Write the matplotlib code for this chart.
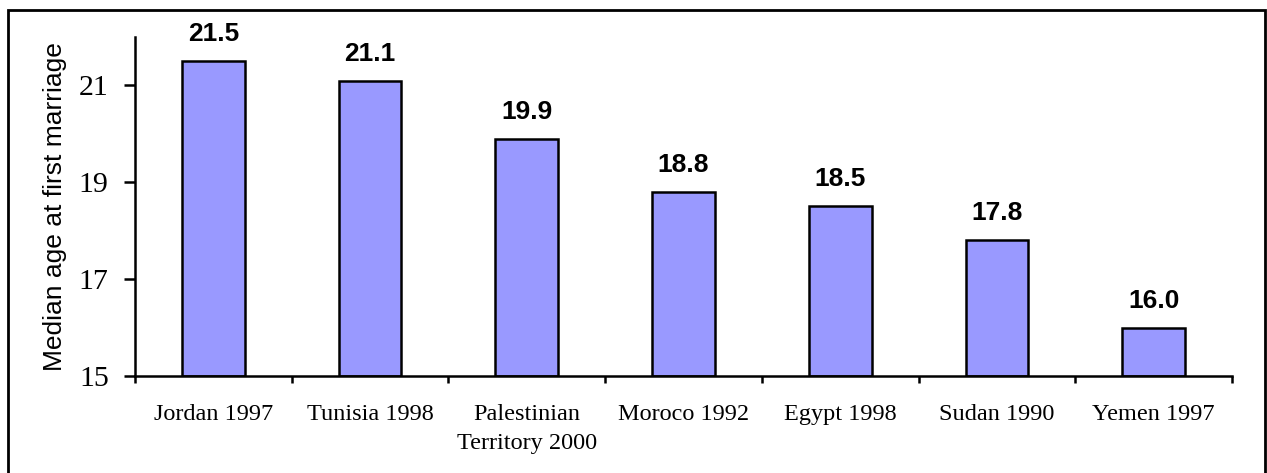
import matplotlib.pyplot as plt
from matplotlib.patches import Rectangle

countries = ['Jordan 1997', 'Tunisia 1998', 'Palestinian\nTerritory 2000', 'Moroco 1992',
             'Egypt 1998', 'Sudan 1990', 'Yemen 1997']
median_age = [21.5, 21.1, 19.9, 18.8, 18.5, 17.8, 16.0]
y_ticks = [15, 17, 19, 21]

fig = plt.figure(figsize=(12.67, 4.73), dpi=100)
ax = fig.add_axes([0.1066, 0.2051, 0.8658, 0.7167])

x = list(range(len(countries)))
ax.bar(x, [v - 15 for v in median_age], bottom=15, width=0.4,
       color='#9999FF', edgecolor='black', linewidth=1.8)

for xi, v in zip(x, median_age):
    ax.annotate('{:.1f}'.format(v), (xi, v), xytext=(0, 14.4), textcoords='offset points',
                ha='center', va='baseline', fontsize=19, fontweight='bold',
                family='Liberation Sans')

ax.set_xlim(-0.5, len(countries) - 0.5)
ax.set_ylim(15, 22)
ax.set_yticks(y_ticks)
ax.set_yticklabels([str(t) for t in y_ticks], family='Liberation Serif', fontsize=21.5)
ax.set_xticks([i - 0.5 for i in range(len(countries) + 1)])
ax.set_xticklabels([])
ax.set_xticks(x, minor=True)
ax.set_xticklabels(countries, minor=True, family='Liberation Serif', fontsize=17.5,
                   linespacing=1.5)
ax.tick_params(axis='x', which='major', direction='out', length=5, width=1.8)
ax.tick_params(axis='x', which='minor', length=0, pad=20)
ax.tick_params(axis='y', direction='out', length=8, width=1.8, pad=11)

for s in ['top', 'right']:
    ax.spines[s].set_visible(False)
for s in ['left', 'bottom']:
    ax.spines[s].set_linewidth(1.8)

ax.set_ylabel('Median age at first marriage', family='Liberation Sans', fontsize=19)
ax.yaxis.set_label_coords(-0.062, 0.5)

fig.patches.append(Rectangle((8 / 1267, -0.02), 1257 / 1267, 1.02 - 10 / 473,
                             transform=fig.transFigure, fill=False,
                             edgecolor='black', linewidth=2))

fig.savefig('out.png', dpi=100)
